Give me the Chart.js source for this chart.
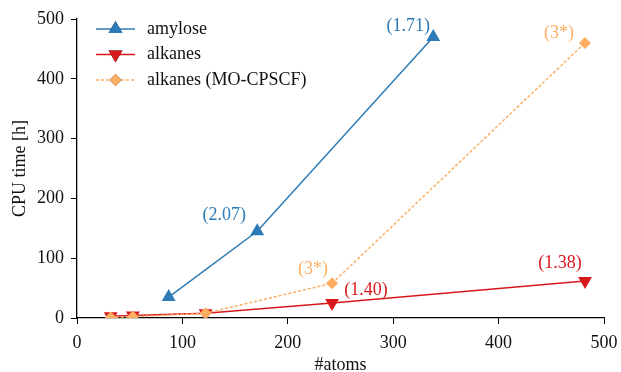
<!DOCTYPE html>
<html>
<head>
<meta charset="utf-8">
<script src="https://cdn.jsdelivr.net/npm/chart.js@4/dist/chart.umd.min.js"></script>
<style>
  body { margin: 0; background: #fff; }
  canvas { display: block; }
</style>
</head>
<body>
<canvas id="myChart" width="621" height="372"></canvas>
<script>
// data
const amyloseAtoms = [87, 171, 338];
const amyloseHours = [35, 145, 470];
const amyloseNotes = [null, '(2.07)', '(1.71)'];

const alkaneAtoms = [32, 53, 122, 242, 482];
const alkaneHours = [3, 4, 8, 25, 62];
const alkaneNotes = [null, null, null, '(1.40)', '(1.38)'];

const mocpAtoms = [32, 53, 122, 242, 482];
const mocpHours = [1, 2, 8, 58, 460];
const mocpNotes = [null, null, null, '(3*)', '(3*)'];

const xTicks = [0, 100, 200, 300, 400, 500];
const yTicks = [0, 100, 200, 300, 400, 500];

const BLUE = '#2c7bb6', RED = '#d7191c', ORANGE = '#fdae61';
const FONT = '"Liberation Serif", "DejaVu Serif", serif';

function pts(xs, ys) { return xs.map((x, i) => ({ x: x, y: ys[i] })); }

// label offsets in px, relative to the marker
const noteOffsets = {
  0: [null, [-33, -16], [-25, -11]],
  1: [null, null, null, [34, -13], [-25, -18]],
  2: [null, null, null, [-19, -14], [-26, -10]]
};
const notes = [amyloseNotes, alkaneNotes, mocpNotes];

const notePlugin = {
  id: 'notes',
  afterDatasetsDraw(chart) {
    const ctx = chart.ctx;
    ctx.save();
    ctx.font = '18px ' + FONT;
    ctx.textAlign = 'center';
    ctx.textBaseline = 'middle';
    chart.data.datasets.forEach((ds, di) => {
      const meta = chart.getDatasetMeta(di);
      meta.data.forEach((el, i) => {
        const t = notes[di][i];
        if (!t) return;
        const off = noteOffsets[di][i];
        ctx.fillStyle = ds.borderColor;
        ctx.fillText(t, el.x + off[0], el.y + off[1]);
      });
    });
    ctx.restore();
  }
};

// legend drawn inside the plot, line + marker like matplotlib
const legendPlugin = {
  id: 'innerLegend',
  afterDraw(chart) {
    const ctx = chart.ctx;
    const left = chart.chartArea.left + 19, top = chart.chartArea.top + 10;
    ctx.save();
    chart.data.datasets.forEach((ds, i) => {
      const y = top + i * 25.5;
      ctx.strokeStyle = ds.borderColor;
      ctx.lineWidth = ds.borderWidth;
      ctx.setLineDash(ds.borderDash || []);
      ctx.beginPath();
      ctx.moveTo(left, y);
      ctx.lineTo(left + 39, y);
      ctx.stroke();
      ctx.setLineDash([]);
      Chart.helpers.drawPoint(ctx, {
        pointStyle: ds.pointStyle, rotation: ds.rotation || 0,
        radius: ds.pointRadius, borderWidth: 0
      }, left + 19.5, y);
      ctx.fillStyle = ds.borderColor;
      ctx.fill();
      ctx.fillStyle = '#111';
      ctx.font = '18px ' + FONT;
      ctx.textBaseline = 'middle';
      ctx.fillText(ds.label, left + 51, y);
    });
    ctx.restore();
  }
};

const tickFont = { family: FONT, size: 18 };

new Chart(document.getElementById('myChart').getContext('2d'), {
  type: 'line',
  data: {
    datasets: [
      {
        label: 'amylose', data: pts(amyloseAtoms, amyloseHours),
        borderColor: BLUE, backgroundColor: BLUE, borderWidth: 1.5,
        pointStyle: 'triangle', pointRadius: 8, pointBorderWidth: 0, order: 2
      },
      {
        label: 'alkanes', data: pts(alkaneAtoms, alkaneHours),
        borderColor: RED, backgroundColor: RED, borderWidth: 1.5,
        pointStyle: 'triangle', rotation: 180, pointRadius: 8, pointBorderWidth: 0, order: 1
      },
      {
        label: 'alkanes (MO-CPSCF)', data: pts(mocpAtoms, mocpHours),
        borderColor: ORANGE, backgroundColor: ORANGE, borderWidth: 1.5, borderDash: [3, 2],
        pointStyle: 'rectRot', pointRadius: 6, pointBorderWidth: 0, order: 0
      }
    ]
  },
  options: {
    responsive: false,
    devicePixelRatio: 1,
    animation: false,
    layout: { padding: { top: 19, right: 17, left: 0, bottom: 0 } },
    plugins: { legend: { display: false }, tooltip: { enabled: false } },
    scales: {
      x: {
        type: 'linear', min: 0, max: 500,
        afterBuildTicks: s => { s.ticks = xTicks.map(v => ({ value: v })); },
        afterFit: s => { s.height = 54; s.paddingRight = 0; s.paddingLeft = 0; },
        grid: { drawOnChartArea: false, tickLength: 6, color: '#000', tickWidth: 1 },
        border: { color: '#000', width: 1.3 },
        ticks: { color: '#111', font: tickFont, padding: 8, maxRotation: 0 },
        title: { display: true, text: '#atoms', color: '#111', font: tickFont, padding: { top: 0, bottom: -4 } }
      },
      y: {
        min: 0, max: 500,
        afterBuildTicks: s => { s.ticks = yTicks.map(v => ({ value: v })); },
        afterFit: s => { s.width = 77; s.paddingTop = 0; s.paddingBottom = 0; },
        grid: { drawOnChartArea: false, tickLength: 6, color: '#000', tickWidth: 1 },
        border: { color: '#000', width: 1.3 },
        ticks: { color: '#111', font: tickFont, padding: 7 },
        title: { display: true, text: 'CPU time [h]', color: '#111', font: tickFont, padding: { top: 9, bottom: 2 } }
      }
    }
  },
  plugins: [notePlugin, legendPlugin]
});
</script>
</body>
</html>
